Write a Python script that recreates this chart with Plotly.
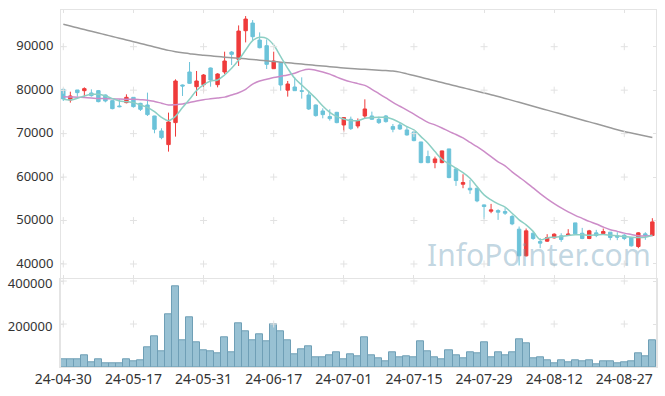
import plotly.graph_objects as go

dates = [
    "24-04-30", "24-05-02", "24-05-03", "24-05-07", "24-05-08", "24-05-09", "24-05-10", "24-05-13", "24-05-14", "24-05-16",
    "24-05-17", "24-05-20", "24-05-21", "24-05-22", "24-05-23", "24-05-24", "24-05-27", "24-05-28", "24-05-29", "24-05-30",
    "24-05-31", "24-06-03", "24-06-04", "24-06-05", "24-06-07", "24-06-10", "24-06-11", "24-06-12", "24-06-13", "24-06-14",
    "24-06-17", "24-06-18", "24-06-19", "24-06-20", "24-06-21", "24-06-24", "24-06-25", "24-06-26", "24-06-27", "24-06-28",
    "24-07-01", "24-07-02", "24-07-03", "24-07-04", "24-07-05", "24-07-08", "24-07-09", "24-07-10", "24-07-11", "24-07-12",
    "24-07-15", "24-07-16", "24-07-17", "24-07-18", "24-07-19", "24-07-22", "24-07-23", "24-07-24", "24-07-25", "24-07-26",
    "24-07-29", "24-07-30", "24-07-31", "24-08-01", "24-08-02", "24-08-05", "24-08-06", "24-08-07", "24-08-08", "24-08-09",
    "24-08-12", "24-08-13", "24-08-14", "24-08-16", "24-08-19", "24-08-20", "24-08-21", "24-08-22", "24-08-23", "24-08-26",
    "24-08-27", "24-08-28", "24-08-29", "24-08-30", "24-09-02",
]

opens = [
    80190, 77740, 80040, 79880, 79350, 79890, 78890, 77590, 76360, 77130,
    78350, 76970, 76590, 74060, 70610, 67470, 72530, 81190, 84180, 80800,
    81260, 85100, 81260, 84180, 88770, 87090, 93680, 95440, 91530, 90230,
    84940, 86320, 80000, 80730, 79890, 78890, 76590, 75210, 73910, 74900,
    71990, 73300, 71760, 74060, 74060, 73300, 74060, 71610, 71990, 70840,
    70380, 68080, 64710, 63330, 63330, 66480, 61880, 58350, 57430, 57430,
    53600, 52150, 52300, 52070, 50920, 48010, 41880, 47080, 45170, 45250,
    46010, 46480, 46630, 49460, 47080, 45860, 47160, 47010, 47320, 46480,
    46630, 46090, 44020, 46930, 46550,
]
highs = [
    80350, 79650, 80040, 80650, 80190, 80040, 79000, 77700, 77890, 79040,
    78400, 77100, 79430, 74100, 71230, 74830, 82490, 81300, 86480, 84410,
    83700, 85200, 83900, 88850, 89000, 94900, 97050, 96130, 93300, 91690,
    88850, 86500, 82110, 82950, 82950, 79890, 76700, 75820, 75590, 75000,
    73800, 73910, 73500, 77890, 75060, 73910, 74290, 72220, 72530, 71760,
    70610, 68100, 66090, 64710, 66090, 66480, 62030, 60650, 59350, 57580,
    53680, 53830, 52600, 52830, 51300, 48620, 48160, 47310, 45940, 46860,
    47080, 47080, 48010, 49460, 48310, 47850, 47850, 48160, 47320, 47320,
    46860, 46250, 47320, 47320, 50540,
]
lows = [
    77510, 77130, 78500, 78510, 78510, 77200, 77200, 75590, 76050, 76970,
    75980, 75210, 74060, 70080, 68700, 65860, 69310, 78660, 81420, 78660,
    79580, 80800, 80650, 83720, 85790, 85560, 90990, 91530, 89620, 84870,
    84870, 79880, 78510, 79880, 78050, 75440, 73910, 73520, 72990, 72380,
    70460, 70840, 71230, 73520, 73150, 72220, 72530, 70310, 70840, 69540,
    68240, 63180, 63180, 62030, 63180, 59730, 57970, 57430, 56130, 54210,
    50310, 51690, 50150, 51300, 48930, 39650, 41730, 45560, 43640, 45100,
    45860, 45100, 46480, 46860, 45710, 45710, 46170, 46700, 45480, 45480,
    45480, 44020, 43640, 45560, 46400,
]
closes = [
    77970, 78660, 79430, 80350, 78740, 77360, 77510, 75750, 76200, 78350,
    76210, 75590, 74370, 71000, 69080, 72680, 82110, 80960, 81570, 82110,
    83490, 82340, 83720, 86710, 88240, 93600, 96360, 92300, 89770, 85940,
    86710, 81190, 81420, 79880, 79730, 75670, 74140, 74370, 73450, 72530,
    73680, 71150, 72990, 75670, 73300, 72530, 72760, 71000, 71070, 69690,
    68390, 63330, 63330, 64180, 66020, 59890, 59200, 58740, 57050, 54520,
    53220, 52450, 51920, 51690, 49230, 41880, 47620, 45860, 44790, 46090,
    46860, 45630, 46860, 46930, 45860, 47620, 46550, 47470, 46090, 46170,
    45860, 44180, 47160, 46550, 49690,
]
ma5 = [
    77890, 77740, 78120, 78660, 79040, 79040, 78660, 78050, 77510, 77360,
    77130, 76590, 76050, 75060, 73750, 72990, 74000, 76000, 77900, 79900,
    81200, 82100, 82340, 83490, 85020, 86930, 89230, 91380, 92150, 91920,
    90380, 87700, 85020, 82720, 81190, 79660, 78120, 76360, 74900, 73910,
    73370, 72990, 72990, 73520, 73680, 73750, 73750, 73300, 72530, 71610,
    70840, 69310, 67780, 65860, 64100, 63030, 62030, 61030, 59730, 57820,
    55900, 54750, 53830, 53070, 51690, 50150, 49000, 47500, 45600, 46000,
    46170, 46320, 46550, 46700, 46700, 46620, 46700, 46780, 46620, 46480,
    46320, 46170, 46090, 46170, 46630,
]
ma20 = [
    78510, 78450, 78380, 78300, 78200, 78100, 78050, 78000, 77950, 77920,
    77900, 77800, 77700, 77400, 77000, 76600, 76650, 76800, 77150, 77500,
    77800, 78000, 78200, 78400, 78900, 79400, 80200, 81400, 82100, 82500,
    82900, 83200, 83500, 83900, 84500, 84800, 84600, 84200, 83700, 83000,
    82400, 81900, 81500, 81100, 80200, 79200, 78200, 77200, 76300, 75400,
    74500, 73500, 72600, 72000, 71300, 70500, 69800, 69000, 68000, 67000,
    65900, 64700, 63500, 62600, 61200, 60000, 58800, 57500, 56200, 55000,
    53900, 52900, 52000, 51200, 50500, 49800, 49200, 48500, 47900, 47500,
    47100, 46800, 46500, 46450, 46550,
]
ma_long = [
    95150, 94750, 94350, 93950, 93550, 93150, 92750, 92350, 91950, 91550,
    91150, 90750, 90350, 89950, 89550, 89150, 88850, 88600, 88400, 88200,
    88050, 87900, 87750, 87600, 87450, 87330, 87200, 87050, 86900, 86750,
    86600, 86450, 86300, 86150, 86000, 85850, 85700, 85550, 85400, 85250,
    85100, 84980, 84880, 84800, 84700, 84600, 84500, 84400, 84150, 83750,
    83350, 82950, 82550, 82150, 81750, 81350, 80950, 80550, 80150, 79750,
    79350, 78950, 78550, 78100, 77650, 77200, 76750, 76300, 75850, 75400,
    74950, 74500, 74050, 73600, 73150, 72700, 72250, 71800, 71350, 70900,
    70500, 70150, 69800, 69450, 69100,
]
volumes = [
    36900, 36900, 36900, 55400, 23100, 36900, 18500, 18500, 18500, 36900,
    27700, 32300, 92300, 143000, 73800, 244600, 375300, 124600, 230700, 115400,
    78500, 73800, 64600, 138400, 69200, 203000, 166100, 124600, 152300, 120000,
    198400, 166100, 124600, 60000, 83100, 96900, 46100, 46100, 55400, 69200,
    36900, 60000, 50800, 138400, 55400, 41500, 27700, 69200, 46100, 50800,
    46100, 120000, 73800, 46100, 36900, 78500, 55400, 41500, 69200, 64600,
    115400, 46100, 69200, 55400, 69200, 129200, 110800, 41500, 46100, 32300,
    18500, 32300, 23100, 32300, 27700, 32300, 13800, 27700, 27700, 18500,
    23100, 27700, 64600, 50800, 124600,
]
price_ticks = [40000, 50000, 60000, 70000, 80000, 90000]
volume_ticks = [200000, 400000]
x_tick_labels = ["24-04-30", "24-05-17", "24-05-31", "24-06-17", "24-07-01",
                 "24-07-15", "24-07-29", "24-08-12", "24-08-27"]

UP = "#ef3b3b"
DOWN = "#6cc3d9"
GRID = "#e2e2e2"
BORDER = "#e4e4e4"
FONT = "Noto Sans"
TXT = "#333333"
FS = 13

fig = go.Figure()

fig.add_trace(go.Candlestick(
    x=dates, open=opens, high=highs, low=lows, close=closes,
    increasing=dict(line=dict(color=UP, width=1), fillcolor=UP),
    decreasing=dict(line=dict(color=DOWN, width=1), fillcolor=DOWN),
    whiskerwidth=0, xaxis="x", yaxis="y", showlegend=False,
))
fig.add_trace(go.Scatter(x=dates, y=ma_long, mode="lines", line=dict(color="#9a9a9a", width=1.5),
                         xaxis="x", yaxis="y", showlegend=False, line_shape="spline"))
fig.add_trace(go.Scatter(x=dates, y=ma20, mode="lines", line=dict(color="#cc8cc8", width=1.5),
                         xaxis="x", yaxis="y", showlegend=False, line_shape="spline"))
fig.add_trace(go.Scatter(x=dates, y=ma5, mode="lines", line=dict(color="#8ccfc4", width=1.5),
                         xaxis="x", yaxis="y", showlegend=False, line_shape="spline"))

# grid crosses
gx, gy = [], []
for lab in x_tick_labels:
    for v in price_ticks:
        gx.append(lab)
        gy.append(v)
fig.add_trace(go.Scatter(x=gx, y=gy, mode="markers", xaxis="x", yaxis="y", showlegend=False,
                         marker=dict(symbol="cross-thin", size=5, line=dict(color=GRID, width=1))))
vx, vy = [], []
for lab in x_tick_labels:
    for v in volume_ticks:
        vx.append(lab)
        vy.append(v)
fig.add_trace(go.Scatter(x=vx, y=vy, mode="markers", xaxis="x2", yaxis="y2", showlegend=False,
                         marker=dict(symbol="cross-thin", size=5, line=dict(color=GRID, width=1))))

fig.add_trace(go.Bar(x=dates, y=volumes, xaxis="x2", yaxis="y2", showlegend=False,
                     marker=dict(color="#98c1d3", line=dict(color="#6f9fb6", width=1))))

xr = [-0.33, 84.52]
fig.update_layout(
    width=665, height=396,
    margin=dict(l=61, r=9, t=10, b=29, autoexpand=False),
    paper_bgcolor="white", plot_bgcolor="white",
    bargap=0, boxgap=0.3,
    font=dict(family=FONT, size=FS, color=TXT),
    xaxis=dict(type="category", domain=[0, 1], anchor="y", range=xr, automargin=False,
               rangeslider=dict(visible=False), showgrid=False,
               tickvals=x_tick_labels, showticklabels=False,
               ticks="inside", ticklen=3, tickcolor=GRID,
               showline=True, linecolor=BORDER, linewidth=1, mirror="ticks", zeroline=False),
    yaxis=dict(domain=[0.2485, 1], anchor="x", range=[36710, 98445], automargin=False,
               tickvals=price_ticks, ticktext=[str(v) for v in price_ticks],
               showgrid=False, zeroline=False, ticklabelstandoff=4, ticklabelshift=-1,
               ticks="inside", ticklen=3, tickcolor=GRID, tickfont=dict(size=FS, color=TXT),
               showline=True, linecolor=BORDER, linewidth=1, mirror="ticks"),
    xaxis2=dict(type="category", domain=[0, 1], anchor="y2", range=xr, matches="x", automargin=False,
                showgrid=False, tickvals=x_tick_labels, ticktext=x_tick_labels,
                ticks="", showline=True, linecolor=BORDER, linewidth=1, mirror=True,
                ticklabelstandoff=-1,
                zeroline=False, tickfont=dict(size=14, color=TXT)),
    yaxis2=dict(domain=[0, 0.2457], anchor="x2", range=[0, 408000], automargin=False,
                tickvals=volume_ticks, ticktext=[str(v) for v in volume_ticks],
                showgrid=False, zeroline=False, ticklabelstandoff=4, ticklabelshift=2,
                ticks="inside", ticklen=3, tickcolor=GRID, tickfont=dict(size=FS, color=TXT),
                showline=True, linecolor=BORDER, linewidth=2, mirror="ticks"),
    annotations=[dict(text="InfoPointer.com", xref="paper", yref="paper", x=0.803, y=0.3165,
                      xanchor="center", yanchor="middle", showarrow=False,
                      font=dict(family=FONT, size=30, color="rgba(120,165,190,0.45)"))],
)

fig.write_html("out.html", config={"displayModeBar": False},
               post_script="document.body.style.margin='0px';")
